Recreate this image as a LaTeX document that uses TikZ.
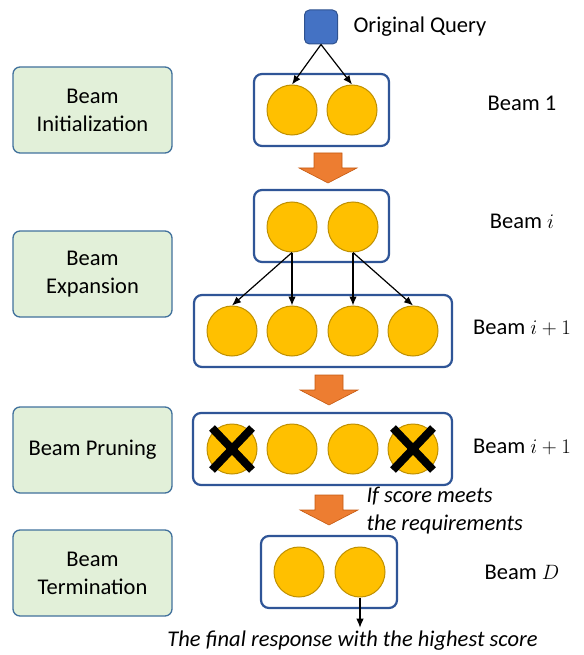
\documentclass[tikz,border=0pt]{standalone}
\usepackage{fontspec}
\setmainfont{Carlito}
\usetikzlibrary{arrows.meta}

\definecolor{beamblue}{HTML}{2F5597}
\definecolor{stageline}{HTML}{41719C}
\definecolor{stagegreen}{HTML}{E2F0D9}
\definecolor{candgold}{HTML}{FFC000}
\definecolor{candline}{HTML}{BF9000}
\definecolor{queryblue}{HTML}{4472C4}
\definecolor{queryline}{HTML}{2F528F}
\definecolor{orangefill}{HTML}{ED7D31}
\definecolor{orangeline}{HTML}{C55A11}

\newcommand{\txt}{\fontsize{22.5}{28}\selectfont}

\begin{document}
\begin{tikzpicture}[
    x=1pt, y=-1pt,
    every node/.style={font=\txt},
    stagebox/.style={rectangle, rounded corners=7pt, draw=stageline, fill=stagegreen, line width=1.3pt, minimum width=159pt, minimum height=86pt, align=center, inner sep=0pt},
    beambox/.style={rectangle, rounded corners=8pt, draw=beamblue, line width=2.2pt, fill=white, minimum height=72pt, inner sep=0pt},
    cand/.style={circle, draw=candline, fill=candgold, line width=1pt, minimum size=50pt, inner sep=0pt},
    beamlabel/.style={anchor=center},
    arrow/.style={-{Latex[length=9pt,width=7.5pt]}, line width=1.2pt},
    bigarrow/.style={draw=orangeline, fill=orangefill, line width=0.6pt},
    xmark/.style={line width=8pt}
]
\useasboundingbox (0,0) rectangle (583,655);

% Stages
\node[stagebox] (init) at (92.5,110) {Beam\\Initialization};
\node[stagebox] (expand) at (92.5,274) {Beam\\Expansion};
\node[stagebox] (prune) at (92.5,450) {Beam Pruning};
\node[stagebox] (term) at (92.5,573) {Beam\\Termination};

% Original query
\node[rectangle, rounded corners=5pt, draw=queryline, fill=queryblue, line width=1pt, minimum width=33pt, minimum height=34pt, inner sep=0pt] (query) at (321,27) {};
\node[anchor=west] (qlabel) at (350,27) {Original Query};

% Beam 1
\node[beambox, minimum width=135pt] (box1) at (321.5,110) {};
\node[cand] (c1a) at (292,110) {};
\node[cand] (c1b) at (352,110) {};
\node[beamlabel] (l1) at (522,103) {Beam 1};

% Beam i
\node[beambox, minimum width=135pt] (boxi) at (321.5,226) {};
\node[cand] (cia) at (292,227) {};
\node[cand] (cib) at (353,227) {};
\node[beamlabel] (li) at (522,221) {Beam $i$};

% Beam i+1
\node[beambox, minimum width=258pt] (boxn) at (323,331) {};
\node[cand] (cna) at (232,331) {};
\node[cand] (cnb) at (292,331) {};
\node[cand] (cnc) at (353,331) {};
\node[cand] (cnd) at (413,331) {};
\node[beamlabel] (ln) at (522,328) {Beam $i+1$};

% Pruned beam
\node[beambox, minimum width=259pt] (boxp) at (322.5,449) {};
\node[cand] (cpa) at (232,449) {};
\node[cand] (cpb) at (292,449) {};
\node[cand] (cpc) at (353,449) {};
\node[cand] (cpd) at (413,449) {};
\node[beamlabel] (lp) at (522,447) {Beam $i+1$};
\draw[xmark] (cpa) ++(-20,-21) -- ++(40,42) (cpa) ++(20,-21) -- ++(-40,42);
\draw[xmark] (cpd) ++(-20,-21) -- ++(40,42) (cpd) ++(20,-21) -- ++(-40,42);

% Beam D
\node[beambox, minimum width=136pt] (boxd) at (329,572) {};
\node[cand] (cda) at (299,572) {};
\node[cand] (cdb) at (360,572) {};
\node[beamlabel] (ld) at (522,572) {Beam $D$};

% Block arrows
\draw[bigarrow, shift={(328,153)}] (-14,0) -- (14,0) -- (14,15) -- (29,15) -- (0,30) -- (-29,15) -- (-14,15) -- cycle;
\draw[bigarrow, shift={(329,375)}] (-14,0) -- (14,0) -- (14,15) -- (29,15) -- (0,30) -- (-29,15) -- (-14,15) -- cycle;
\draw[bigarrow, shift={(329,495)}] (-14,0) -- (14,0) -- (14,15) -- (29,15) -- (0,30) -- (-29,15) -- (-14,15) -- cycle;

% Condition and result
\node[anchor=west, align=left, font=\txt\itshape] (cond) at (363,511) {If score meets\\the requirements};
\node[font=\txt\itshape] (final) at (352.5,641) {The final response with the highest score};

% Arrows
\draw[arrow] (query.south) -- (c1a.north);
\draw[arrow] (query.south) -- (c1b.north);
\draw[arrow] (cia.south) -- (cna.north);
\draw[arrow] (cia.south) -- (cnb.north);
\draw[arrow] (cib.south) -- (cnc.north);
\draw[arrow] (cib.south) -- (cnd.north);
\draw[arrow] (cdb.south) -- (cdb.south |- final.north);

\end{tikzpicture}
\end{document}
